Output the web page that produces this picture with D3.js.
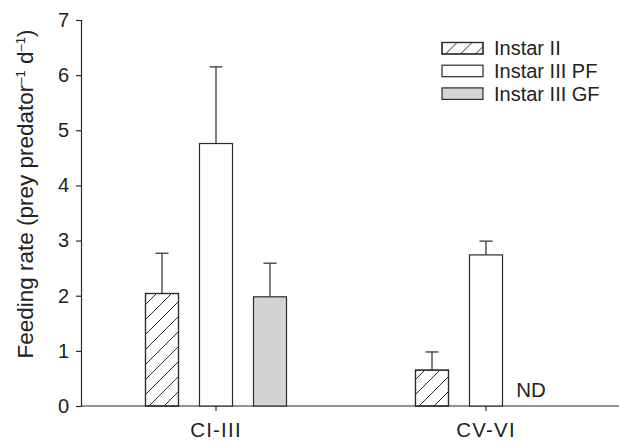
<!DOCTYPE html>
<html>
<head>
<meta charset="utf-8">
<script src="https://cdn.jsdelivr.net/npm/d3@7"></script>
<style>
  body { margin: 0; background: #fff; }
  text { font-family: "Liberation Sans", Arial, sans-serif; fill: #222; }
</style>
</head>
<body>
<div id="chart"></div>
<script>
// data
const stages = ["CI-III", "CV-VI"];
const seriesNames = ["Instar II", "Instar III PF", "Instar III GF"];
const means = [
  [2.04, 4.76, 1.98],
  [0.65, 2.74, null]
];
const errors = [
  [0.73, 1.39, 0.61],
  [0.33, 0.25, null]
];
const yTicks = [0, 1, 2, 3, 4, 5, 6, 7];

const width = 619;
const height = 444;
const margin = { left: 81, top: 20, bottom: 38 };
const ink = "#2a2a2a";
const font = "Liberation Sans, Arial, sans-serif";

const svg = d3.select("#chart").append("svg")
    .attr("width", width).attr("height", height);

// hatch pattern
const defs = svg.append("defs");
const pat = defs.append("pattern")
    .attr("id", "hatch")
    .attr("patternUnits", "userSpaceOnUse")
    .attr("width", 15).attr("height", 15);
pat.append("path")
    .attr("d", "M0,15 L15,0 M-4,4 L4,-4 M11,19 L19,11")
    .attr("stroke", ink).attr("stroke-width", 1);

const fills = ["url(#hatch)", "#ffffff", "#d4d4d4"];

const y = d3.scaleLinear().domain([0, 7]).range([height - margin.bottom, margin.top]);
const x = d3.scaleBand().domain(stages).range([margin.left, margin.left + 540]);
const xSub = d3.scaleBand().domain(d3.range(seriesNames.length)).range([-81, 81]);
const barW = 33;

// y axis
const yAxis = svg.append("g")
    .attr("transform", `translate(${margin.left},0)`)
    .call(d3.axisLeft(y).tickValues(yTicks).tickFormat(d3.format("d")).tickSize(5).tickPadding(7));
yAxis.select(".domain").attr("stroke", ink).attr("stroke-width", 1.2);
yAxis.selectAll(".tick line").attr("stroke", ink).attr("stroke-width", 1.2);
yAxis.selectAll(".tick text")
    .attr("font-size", 20).attr("font-family", font).attr("fill", ink);

// x axis
const xAxis = svg.append("g")
    .attr("transform", `translate(0,${y(0)})`)
    .call(d3.axisBottom(x).tickSize(5).tickPadding(11).tickSizeOuter(0));
xAxis.select(".domain").attr("d", `M${margin.left},0H${width}`)
    .attr("stroke", ink).attr("stroke-width", 1.2);
xAxis.selectAll(".tick line").attr("stroke", ink).attr("stroke-width", 1.2);
xAxis.selectAll(".tick text")
    .attr("font-size", 20.5).attr("font-family", font).attr("fill", ink)
    .attr("letter-spacing", 1.2);

// bars
stages.forEach((s, gi) => {
  const cx = x(s) + x.bandwidth() / 2;
  means[gi].forEach((v, si) => {
    const bx = cx + xSub(si) + xSub.bandwidth() / 2;
    if (v === null) {
      svg.append("text")
          .attr("x", bx - 9).attr("y", y(0) - 9)
          .attr("text-anchor", "middle")
          .attr("font-size", 20.5)
          .text("ND");
      return;
    }
    const top = y(v + errors[gi][si]);
    svg.append("line")
        .attr("x1", bx).attr("x2", bx)
        .attr("y1", y(v)).attr("y2", top)
        .attr("stroke", ink).attr("stroke-width", 1.2);
    svg.append("line")
        .attr("x1", bx - 6.5).attr("x2", bx + 6.5)
        .attr("y1", top).attr("y2", top)
        .attr("stroke", ink).attr("stroke-width", 1.2);
    svg.append("rect")
        .attr("x", bx - barW / 2).attr("y", y(v))
        .attr("width", barW).attr("height", y(0) - y(v))
        .attr("fill", si === 0 ? "#fff" : fills[si])
        .attr("stroke", ink).attr("stroke-width", 1.2);
    if (si === 0) {
      svg.append("rect")
          .attr("x", bx - barW / 2).attr("y", y(v))
          .attr("width", barW).attr("height", y(0) - y(v))
          .attr("fill", fills[0])
          .attr("stroke", ink).attr("stroke-width", 1.2);
    }
  });
});

// y label
svg.append("text")
    .attr("transform", `translate(33,194) rotate(-90)`)
    .attr("text-anchor", "middle")
    .attr("font-size", 22.5)
    .html('Feeding rate (prey predator<tspan dy="-8" font-size="13">–1</tspan><tspan dy="8"> d</tspan><tspan dy="-8" font-size="13">–1</tspan><tspan dy="8">)</tspan>');

// legend
const legend = svg.append("g").attr("transform", "translate(442,42.5)");
seriesNames.forEach((n, i) => {
  const g = legend.append("g").attr("transform", `translate(0,${i * 22.7})`);
  g.append("rect")
      .attr("width", 41).attr("height", 11.5)
      .attr("fill", i === 0 ? "#fff" : fills[i])
      .attr("stroke", ink).attr("stroke-width", 1.2);
  if (i === 0) {
    g.append("rect")
        .attr("width", 41).attr("height", 11.5)
        .attr("fill", fills[0])
        .attr("stroke", ink).attr("stroke-width", 1.2);
  }
  g.append("text")
      .attr("x", 52).attr("y", 12.7)
      .attr("font-size", 20)
      .text(n);
});
</script>
</body>
</html>
